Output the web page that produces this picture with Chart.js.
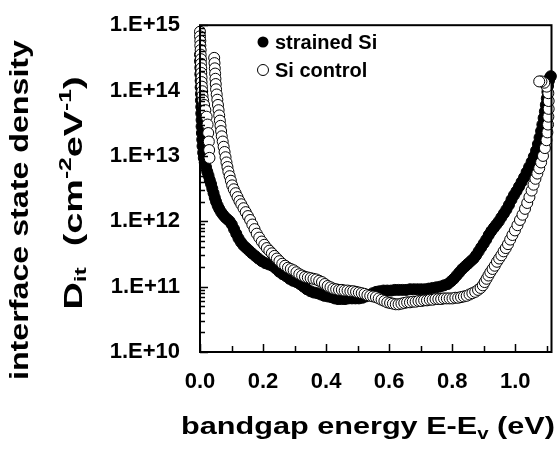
<!DOCTYPE html>
<html>
<head>
<meta charset="utf-8">
<script src="https://cdn.jsdelivr.net/npm/chart.js@4.4.1/dist/chart.umd.min.js"></script>
<style>
  html, body { margin: 0; padding: 0; background: #fff; }
</style>
</head>
<body>
<canvas id="myChart" width="558" height="452"></canvas>
<script>
// [E - Ev (eV), log10 Dit]
const strainedSi = [
    [0.000, 14.55], [0.000, 14.45], [0.001, 14.35], [0.001, 14.25], [0.002, 14.15], [0.002, 14.05],
    [0.003, 13.95], [0.003, 13.85], [0.004, 13.75], [0.004, 13.65], [0.005, 13.55], [0.005, 13.45],
    [0.006, 13.35], [0.007, 13.25], [0.008, 13.15], [0.010, 13.05], [0.012, 12.97], [0.015, 12.90],
    [0.019, 12.83], [0.023, 12.76], [0.027, 12.70], [0.031, 12.63], [0.035, 12.57], [0.039, 12.50],
    [0.043, 12.43], [0.047, 12.36], [0.051, 12.30], [0.056, 12.24], [0.061, 12.19], [0.067, 12.14],
    [0.073, 12.10], [0.080, 12.06], [0.087, 12.03], [0.094, 12.00], [0.101, 11.95], [0.108, 11.88],
    [0.115, 11.81], [0.122, 11.74], [0.130, 11.68], [0.138, 11.63], [0.147, 11.59], [0.156, 11.55],
    [0.165, 11.51], [0.175, 11.47], [0.185, 11.43], [0.196, 11.39], [0.207, 11.36], [0.218, 11.34],
    [0.229, 11.32], [0.240, 11.28], [0.251, 11.23], [0.262, 11.19], [0.273, 11.16], [0.284, 11.12],
    [0.295, 11.09], [0.306, 11.07], [0.317, 11.04], [0.328, 11.00], [0.339, 10.96], [0.350, 10.93],
    [0.361, 10.91], [0.372, 10.90], [0.383, 10.88], [0.394, 10.86], [0.405, 10.85], [0.416, 10.84],
    [0.427, 10.82], [0.438, 10.81], [0.449, 10.81], [0.460, 10.81], [0.471, 10.82], [0.482, 10.82],
    [0.493, 10.82], [0.504, 10.82], [0.515, 10.83], [0.526, 10.85], [0.537, 10.87], [0.548, 10.90],
    [0.559, 10.92], [0.570, 10.93], [0.582, 10.94], [0.594, 10.94], [0.606, 10.94], [0.618, 10.95],
    [0.630, 10.95], [0.642, 10.95], [0.654, 10.95], [0.666, 10.96], [0.678, 10.96], [0.690, 10.96],
    [0.702, 10.96], [0.714, 10.96], [0.726, 10.97], [0.738, 10.98], [0.750, 10.99], [0.762, 11.00],
    [0.774, 11.02], [0.786, 11.04], [0.796, 11.08], [0.805, 11.12], [0.814, 11.17], [0.823, 11.22],
    [0.832, 11.27], [0.841, 11.31], [0.850, 11.35], [0.859, 11.39], [0.868, 11.43], [0.876, 11.48],
    [0.884, 11.54], [0.892, 11.60], [0.900, 11.66], [0.908, 11.72], [0.916, 11.79], [0.924, 11.85],
    [0.932, 11.90], [0.940, 11.95], [0.948, 12.00], [0.956, 12.06], [0.964, 12.12], [0.972, 12.18],
    [0.980, 12.25], [0.988, 12.33], [0.996, 12.40], [1.004, 12.46], [1.012, 12.53], [1.020, 12.60],
    [1.028, 12.67], [1.036, 12.75], [1.044, 12.83], [1.052, 12.91], [1.059, 12.99], [1.066, 13.08],
    [1.072, 13.18], [1.077, 13.28], [1.082, 13.38], [1.086, 13.48], [1.090, 13.58], [1.094, 13.68],
    [1.097, 13.78], [1.100, 13.88], [1.102, 13.98], [1.104, 14.07], [1.107, 14.15], [1.110, 14.20],
    [1.113, 14.22]
];

const siControl = [
    [0.000, 14.90], [0.000, 14.83], [0.001, 14.76], [0.001, 14.69], [0.002, 14.62], [0.002, 14.55],
    [0.003, 14.48], [0.003, 14.41], [0.004, 14.34], [0.004, 14.27], [0.005, 14.20], [0.005, 14.13],
    [0.006, 14.06], [0.007, 13.99], [0.008, 13.92], [0.010, 13.85], [0.013, 13.78], [0.017, 13.70],
    [0.021, 13.60], [0.024, 13.48], [0.026, 13.35], [0.028, 13.22], [0.029, 13.09], [0.030, 12.97],
    [0.045, 14.50], [0.046, 14.42], [0.047, 14.34], [0.048, 14.26], [0.049, 14.18], [0.050, 14.10],
    [0.051, 14.02], [0.053, 13.94], [0.055, 13.86], [0.057, 13.78], [0.059, 13.70], [0.061, 13.62],
    [0.063, 13.54], [0.065, 13.46], [0.067, 13.38], [0.069, 13.30], [0.072, 13.22], [0.075, 13.14],
    [0.078, 13.06], [0.081, 12.98], [0.084, 12.90], [0.087, 12.83], [0.090, 12.76], [0.094, 12.69],
    [0.098, 12.62], [0.102, 12.55], [0.107, 12.49], [0.113, 12.43], [0.119, 12.37], [0.125, 12.31],
    [0.131, 12.26], [0.138, 12.20], [0.145, 12.14], [0.152, 12.08], [0.159, 12.02], [0.166, 11.95],
    [0.173, 11.88], [0.180, 11.81], [0.188, 11.75], [0.196, 11.69], [0.204, 11.64], [0.212, 11.59],
    [0.220, 11.55], [0.228, 11.51], [0.236, 11.47], [0.244, 11.43], [0.252, 11.39], [0.261, 11.35],
    [0.270, 11.32], [0.279, 11.29], [0.288, 11.27], [0.297, 11.25], [0.306, 11.22], [0.315, 11.19],
    [0.324, 11.17], [0.333, 11.15], [0.342, 11.14], [0.351, 11.13], [0.360, 11.12], [0.369, 11.11],
    [0.378, 11.09], [0.387, 11.07], [0.396, 11.04], [0.405, 11.01], [0.414, 10.99], [0.423, 10.97],
    [0.432, 10.96], [0.441, 10.95], [0.450, 10.95], [0.459, 10.94], [0.468, 10.94], [0.477, 10.93],
    [0.486, 10.93], [0.495, 10.92], [0.504, 10.91], [0.513, 10.90], [0.522, 10.89], [0.531, 10.87],
    [0.540, 10.86], [0.549, 10.85], [0.558, 10.84], [0.567, 10.82], [0.576, 10.80], [0.585, 10.78],
    [0.594, 10.76], [0.603, 10.75], [0.612, 10.74], [0.621, 10.73], [0.630, 10.73], [0.639, 10.74],
    [0.648, 10.75], [0.657, 10.76], [0.666, 10.76], [0.675, 10.77], [0.684, 10.77], [0.693, 10.78],
    [0.702, 10.78], [0.711, 10.79], [0.720, 10.79], [0.729, 10.80], [0.738, 10.80], [0.747, 10.81],
    [0.756, 10.81], [0.765, 10.81], [0.774, 10.82], [0.783, 10.82], [0.792, 10.82], [0.801, 10.82],
    [0.810, 10.83], [0.819, 10.83], [0.828, 10.84], [0.837, 10.85], [0.846, 10.86], [0.855, 10.88],
    [0.864, 10.90], [0.873, 10.92], [0.882, 10.95], [0.890, 10.98], [0.897, 11.02], [0.903, 11.07],
    [0.909, 11.12], [0.915, 11.17], [0.921, 11.22], [0.928, 11.27], [0.935, 11.32], [0.942, 11.38],
    [0.949, 11.43], [0.956, 11.48], [0.963, 11.54], [0.970, 11.59], [0.977, 11.65], [0.984, 11.72],
    [0.991, 11.79], [0.999, 11.86], [1.007, 11.94], [1.015, 12.02], [1.023, 12.10], [1.031, 12.19],
    [1.038, 12.28], [1.045, 12.37], [1.052, 12.47], [1.058, 12.56], [1.064, 12.65], [1.070, 12.73],
    [1.076, 12.81], [1.082, 12.90], [1.088, 13.00], [1.094, 13.12], [1.099, 13.24], [1.102, 13.36],
    [1.104, 13.48], [1.105, 13.60], [1.106, 13.72], [1.106, 13.84], [1.105, 13.96], [1.100, 14.06],
    [1.092, 14.12], [1.083, 14.14], [1.076, 14.14]
];

const seriesNames = ['strained Si', 'Si control'];
const xTickValues = [0.0, 0.2, 0.4, 0.6, 0.8, 1.0];
const xTickLabels = ['0.0', '0.2', '0.4', '0.6', '0.8', '1.0'];
const yTickValues = [1e10, 1e11, 1e12, 1e13, 1e14, 1e15];
const yTickLabels = ['1.E+10', '1.E+11', '1.E+12', '1.E+13', '1.E+14', '1.E+15'];

const FONT = '"Liberation Sans", Arial, sans-serif';

const toPoints = arr => arr.map(p => ({x: p[0], y: Math.pow(10, p[1])}));

// draws pieces of text (with sub/superscripts) stretched to a given length
function drawRich(ctx, pieces, cx, baseline, target) {
    let total = 0;
    pieces.forEach(p => {
        ctx.font = 'bold ' + p.size + 'px ' + FONT;
        p.w = ctx.measureText(p.t).width;
        total += p.w;
    });
    const k = target / total;
    ctx.save();
    ctx.translate(cx - target / 2, baseline);
    ctx.scale(k, 1);
    ctx.textAlign = 'left';
    ctx.textBaseline = 'alphabetic';
    let x = 0;
    pieces.forEach(p => {
        ctx.font = 'bold ' + p.size + 'px ' + FONT;
        ctx.fillText(p.t, x, p.dy || 0);
        x += p.w;
    });
    ctx.restore();
}

const decorations = {
    id: 'decorations',
    afterDraw(chart) {
        const {ctx, chartArea: a, scales} = chart;
        const xs = scales.x, ys = scales.y;
        ctx.save();
        ctx.strokeStyle = '#000';
        ctx.fillStyle = '#000';

        // inward ticks
        ctx.lineWidth = 1.5;
        ctx.beginPath();
        for (let k = 0; k <= 11; k++) {
            const px = Math.round(xs.getPixelForValue(k / 10)) + 0.5;
            const len = k % 2 === 0 ? 8 : 6;
            ctx.moveTo(px, a.bottom);
            ctx.lineTo(px, a.bottom - len);
        }
        for (let e = 10; e <= 15; e++) {
            for (let m = 1; m <= 9; m++) {
                const v = m * Math.pow(10, e);
                if (v > 1e15) break;
                const py = Math.round(ys.getPixelForValue(v)) + 0.5;
                const len = m === 1 ? 8 : 5;
                ctx.moveTo(a.left, py);
                ctx.lineTo(a.left + len, py);
            }
        }
        ctx.stroke();

        // frame
        ctx.lineWidth = 2;
        ctx.strokeRect(a.left, a.top, a.right - a.left, a.bottom - a.top);

        // legend
        ctx.lineWidth = 1;
        ctx.beginPath();
        ctx.arc(263, 42, 5.5, 0, Math.PI * 2);
        ctx.fill();
        ctx.beginPath();
        ctx.arc(263, 70, 5.5, 0, Math.PI * 2);
        ctx.fillStyle = '#fff';
        ctx.fill();
        ctx.stroke();
        ctx.fillStyle = '#000';
        ctx.font = 'bold 20px ' + FONT;
        ctx.textAlign = 'left';
        ctx.textBaseline = 'alphabetic';
        ctx.fillText(seriesNames[0], 275, 49);
        ctx.fillText(seriesNames[1], 275, 77);

        // x title
        drawRich(ctx, [
            {t: 'bandgap energy E-E', size: 24},
            {t: 'v', size: 16, dy: 5},
            {t: ' (eV)', size: 24}
        ], 368, 434, 374);

        // y title, two lines
        ctx.save();
        ctx.translate(28, 210);
        ctx.rotate(-Math.PI / 2);
        drawRich(ctx, [{t: 'interface state density', size: 26}], 0, 0, 340);
        ctx.restore();

        ctx.save();
        ctx.translate(82, 193);
        ctx.rotate(-Math.PI / 2);
        drawRich(ctx, [
            {t: 'D', size: 26},
            {t: 'it', size: 17, dy: 4},
            {t: '  (cm', size: 26},
            {t: '-2', size: 17, dy: -11},
            {t: 'eV', size: 26},
            {t: '-1', size: 17, dy: -11},
            {t: ')', size: 26}
        ], 0, 0, 233);
        ctx.restore();

        ctx.restore();
    }
};

const ctx = document.getElementById('myChart');

new Chart(ctx, {
    type: 'scatter',
    data: {
        datasets: [{
            label: seriesNames[0],
            data: toPoints(strainedSi),
            pointRadius: 5.5,
            pointBackgroundColor: '#000',
            pointBorderColor: '#000',
            pointBorderWidth: 1,
            showLine: false,
            clip: false,
            order: 1
        }, {
            label: seriesNames[1],
            data: toPoints(siControl),
            pointRadius: 5.5,
            pointBackgroundColor: '#fff',
            pointBorderColor: '#000',
            pointBorderWidth: 1,
            showLine: false,
            clip: false,
            order: 0
        }]
    },
    plugins: [decorations],
    options: {
        responsive: false,
        animation: false,
        devicePixelRatio: 1,
        layout: {
            padding: {left: 0, right: 2, top: 5, bottom: 0}
        },
        plugins: {
            legend: {display: false},
            tooltip: {enabled: false}
        },
        scales: {
            x: {
                type: 'linear',
                min: 0,
                max: 1.115,
                grid: {display: false},
                border: {display: false},
                afterFit(scale) { scale.height = 100; },
                afterBuildTicks(scale) {
                    scale.ticks = xTickValues.map(v => ({value: v}));
                },
                ticks: {
                    autoSkip: false,
                    maxRotation: 0,
                    padding: 9,
                    color: '#000',
                    font: {family: FONT, size: 22, weight: 'bold'},
                    callback: (value, index) => xTickLabels[index]
                }
            },
            y: {
                type: 'logarithmic',
                min: 1e10,
                max: 1e15,
                grid: {display: false},
                border: {display: false},
                afterFit(scale) { scale.width = 200; },
                afterBuildTicks(scale) {
                    scale.ticks = yTickValues.map(v => ({value: v}));
                },
                ticks: {
                    autoSkip: false,
                    padding: 12,
                    color: '#000',
                    font: {family: FONT, size: 22, weight: 'bold'},
                    callback: (value, index) => yTickLabels[index]
                }
            }
        }
    }
});
</script>
</body>
</html>
